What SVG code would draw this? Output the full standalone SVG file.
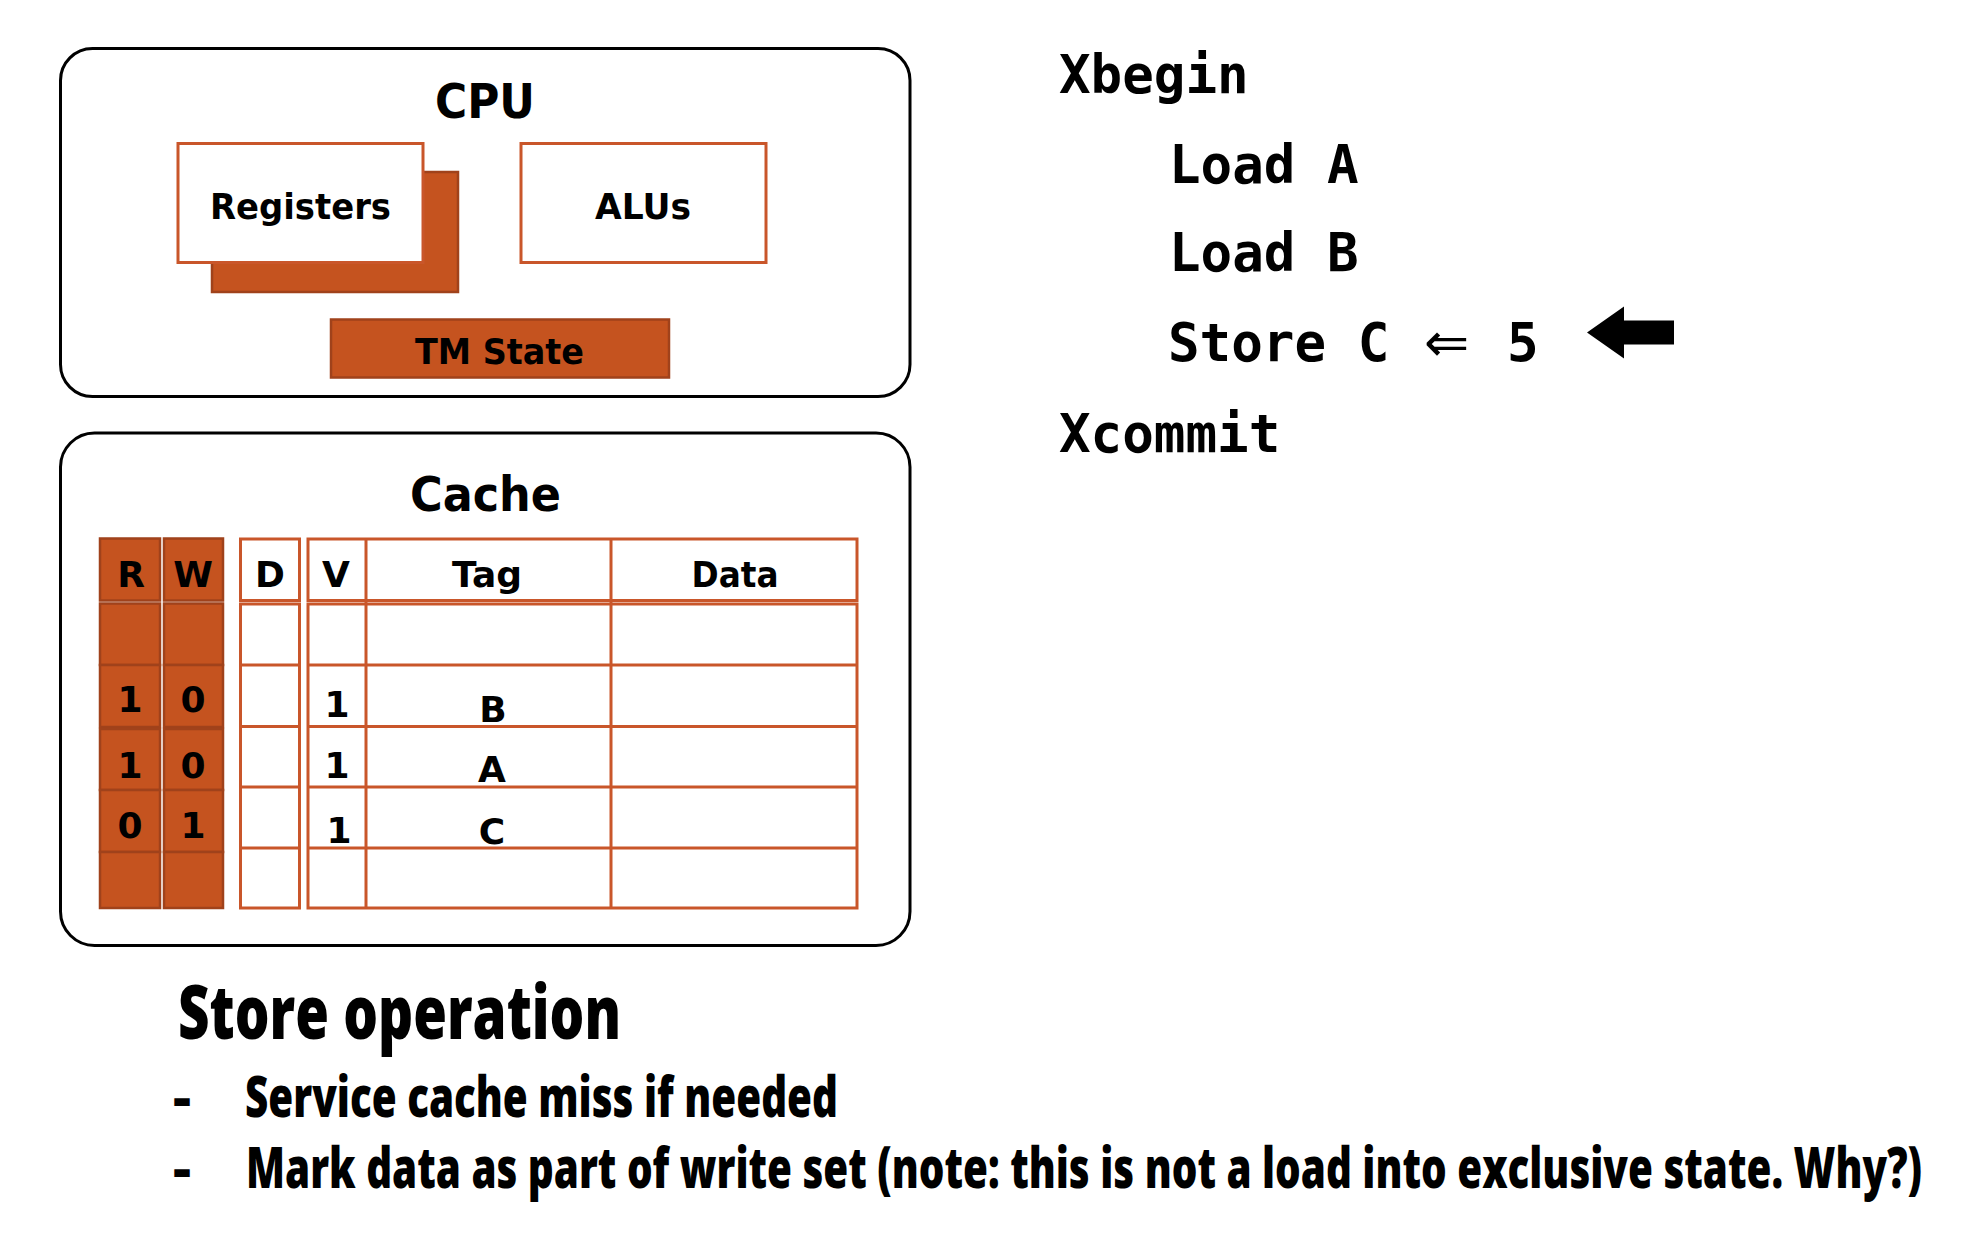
<svg xmlns="http://www.w3.org/2000/svg" width="1966" height="1240" viewBox="0 0 1966 1240">
<style>
.box{fill:#ffffff;stroke:#000000;stroke-width:3}
.obox{fill:#ffffff;stroke:#C9562A;stroke-width:3}
.fill{fill:#C5531F;stroke:#A0421B;stroke-width:2.5}
.cell{fill:none;stroke:#C9562A;stroke-width:3}
.lbl{font-family:"DejaVu Sans","Liberation Sans",sans-serif;font-weight:bold;fill:#000}
.code{font-family:"DejaVu Sans Mono","Liberation Mono",monospace;font-weight:bold;font-size:52.5px;fill:#000}
.note{font-family:"Open Sans","Liberation Sans",sans-serif;font-weight:800;fill:#000}
</style>
<rect width="1966" height="1240" fill="#ffffff"/>

<g id="cpu">
<rect class="box" x="60.5" y="48.5" width="849.5" height="348" rx="32" ry="32"/>
<text class="lbl" x="435" y="118" font-size="48" textLength="100" lengthAdjust="spacingAndGlyphs">CPU</text>
</g>

<g id="registers">
<rect class="fill" x="212" y="172" width="246" height="120"/>
<rect class="obox" x="178" y="143.5" width="245" height="119"/>
<text class="lbl" x="210" y="219" font-size="36" textLength="181" lengthAdjust="spacingAndGlyphs">Registers</text>
</g>

<g id="alus">
<rect class="obox" x="521" y="143.5" width="245" height="119"/>
<text class="lbl" x="595" y="219" font-size="36" textLength="96" lengthAdjust="spacingAndGlyphs">ALUs</text>
</g>

<g id="tmstate">
<rect class="fill" x="331" y="319.5" width="338" height="58"/>
<text class="lbl" x="415" y="364" font-size="36" textLength="169" lengthAdjust="spacingAndGlyphs">TM State</text>
</g>

<g id="cache">
<rect class="box" x="60.5" y="433" width="849.5" height="512.5" rx="34" ry="34"/>
<text class="lbl" x="410" y="511" font-size="48" textLength="151" lengthAdjust="spacingAndGlyphs">Cache</text>
</g>

<g id="rw-columns">
<rect class="fill" x="100" y="538.5" width="60" height="62"/>
<rect class="fill" x="164" y="538.5" width="59" height="62"/>
<rect class="fill" x="100" y="603.5" width="60" height="61.5"/>
<rect class="fill" x="164" y="603.5" width="59" height="61.5"/>
<rect class="fill" x="100" y="665" width="60" height="62"/>
<rect class="fill" x="164" y="665" width="59" height="62"/>
<rect class="fill" x="100" y="729" width="60" height="61"/>
<rect class="fill" x="164" y="729" width="59" height="61"/>
<rect class="fill" x="100" y="790" width="60" height="62"/>
<rect class="fill" x="164" y="790" width="59" height="62"/>
<rect class="fill" x="100" y="852" width="60" height="56"/>
<rect class="fill" x="164" y="852" width="59" height="56"/>
</g>

<g id="d-column">
<rect class="cell" x="240.5" y="539" width="59" height="61.5"/>
<rect class="cell" x="240.5" y="604" width="59" height="304"/>
<line class="cell" x1="240.5" y1="665" x2="299.5" y2="665"/>
<line class="cell" x1="240.5" y1="726.5" x2="299.5" y2="726.5"/>
<line class="cell" x1="240.5" y1="787" x2="299.5" y2="787"/>
<line class="cell" x1="240.5" y1="848" x2="299.5" y2="848"/>
</g>

<g id="vtagdata-table">
<rect class="cell" x="308" y="539" width="549" height="61.5"/>
<rect class="cell" x="308" y="604" width="549" height="304"/>
<line class="cell" x1="366" y1="539" x2="366" y2="908"/>
<line class="cell" x1="611" y1="539" x2="611" y2="908" stroke-width="3.5"/>
<line class="cell" x1="308" y1="665" x2="857" y2="665"/>
<line class="cell" x1="308" y1="726.5" x2="857" y2="726.5"/>
<line class="cell" x1="308" y1="787" x2="857" y2="787"/>
<line class="cell" x1="308" y1="848" x2="857" y2="848"/>
</g>

<g id="table-text" class="lbl" font-size="36" text-anchor="middle">
<text x="131" y="587">R</text>
<text x="193" y="587">W</text>
<text x="270" y="587">D</text>
<text x="336" y="587">V</text>
<text x="487" y="587" textLength="70" lengthAdjust="spacingAndGlyphs">Tag</text>
<text x="735" y="587" textLength="87" lengthAdjust="spacingAndGlyphs">Data</text>
<text x="130" y="712">1</text>
<text x="193" y="712">0</text>
<text x="130" y="778">1</text>
<text x="193" y="778">0</text>
<text x="130" y="838">0</text>
<text x="193" y="838">1</text>
<text x="337" y="717">1</text>
<text x="337" y="778">1</text>
<text x="339" y="843">1</text>
<text x="493" y="722">B</text>
<text x="492" y="782">A</text>
<text x="492" y="844">C</text>
</g>

<g id="code">
<text class="code" x="1059" y="93">Xbegin</text>
<text class="code" x="1169" y="183">Load A</text>
<text class="code" x="1169" y="271">Load B</text>
<text class="code" y="361"><tspan x="1168">Store C</tspan><tspan x="1424" font-family="DejaVu Sans,sans-serif" font-weight="normal" font-size="54">⇐</tspan><tspan x="1507">5</tspan></text>
<text class="code" x="1059" y="452">Xcommit</text>
</g>

<g id="connectors">
<polygon points="1587,332.5 1624,306.5 1624,320.5 1674,320.5 1674,344.5 1624,344.5 1624,358.5" fill="#000000"/>
</g>

<g id="notes">
<text class="note" x="178" y="1039" font-size="74" textLength="443" lengthAdjust="spacingAndGlyphs">Store operation</text>
<text class="note" x="173" y="1117" font-size="56" textLength="18" lengthAdjust="spacingAndGlyphs">–</text>
<text class="note" x="245" y="1117" font-size="57" textLength="593" lengthAdjust="spacingAndGlyphs">Service cache miss if needed</text>
<text class="note" x="173" y="1188" font-size="56" textLength="18" lengthAdjust="spacingAndGlyphs">–</text>
<text class="note" x="246" y="1188" font-size="57" textLength="1676" lengthAdjust="spacingAndGlyphs">Mark data as part of write set (note: this is not a load into exclusive state. Why?)</text>
</g>
</svg>
